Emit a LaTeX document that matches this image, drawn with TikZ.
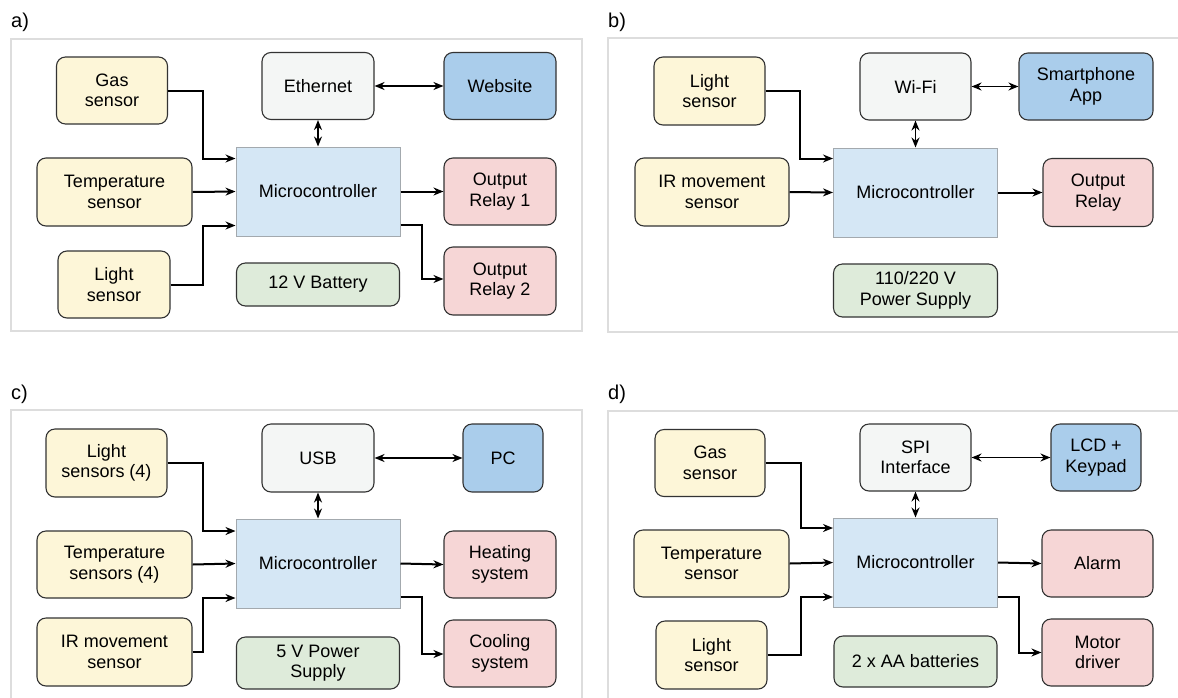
\documentclass[tikz,border=0pt]{standalone}
\usepackage{fontspec}
\setmainfont{Liberation Sans}
\usetikzlibrary{arrows.meta}

\definecolor{sensorfill}{HTML}{FDF6D8}
\definecolor{commfill}{HTML}{F4F6F5}
\definecolor{extfill}{HTML}{AACDEB}
\definecolor{outfill}{HTML}{F6D6D6}
\definecolor{powerfill}{HTML}{DEEBDA}
\definecolor{mcufill}{HTML}{D5E7F5}
\definecolor{mculine}{HTML}{A3A9AE}
\definecolor{boxline}{HTML}{333333}
\definecolor{frameline}{HTML}{DDDDDD}

\tikzset{
  blk/.style={draw=boxline, line width=1.1pt, rounded corners=9pt, align=center,
    inner sep=0pt, font=\fontsize{18}{20.5}\selectfont},
  sensor/.style={blk, fill=sensorfill},
  comm/.style={blk, fill=commfill},
  ext/.style={blk, fill=extfill},
  outbox/.style={blk, fill=outfill},
  power/.style={blk, fill=powerfill},
  mcubox/.style={draw=mculine, line width=1pt, fill=mcufill, align=center,
    minimum width=164pt, minimum height=89pt, inner sep=0pt,
    font=\fontsize{18}{20.5}\selectfont},
  conn/.style={line width=2pt, -{Stealth[length=10pt,width=8pt]}},
  biconn/.style={line width=1.8pt, {Stealth[length=10pt,width=8pt]}-{Stealth[length=10pt,width=8pt]}},
  frame/.style={draw=frameline, line width=2pt},
  panellabel/.style={anchor=west, inner sep=0pt, font=\fontsize{20}{22}\selectfont}
}

\begin{document}
\begin{tikzpicture}[x=1pt, y=-1pt]
  \clip (0,0) rectangle (1178,697);
  \fill[white] (0,0) rectangle (1178,697);

  % a) gas / temperature / light
  \node[panellabel] (la) at (11,22) {a)};
  \draw[frame] (11,39) rectangle (582,331);
  \node[sensor, minimum width=111pt, minimum height=67pt] (agas) at (112,90.5) {Gas\\sensor};
  \node[sensor, minimum width=155pt, minimum height=68pt] (atemp) at (114.5,192) {Temperature\\sensor};
  \node[sensor, minimum width=112pt, minimum height=67pt] (alight) at (114,284.5) {Light\\sensor};
  \node[comm, minimum width=112pt, minimum height=67pt] (aeth) at (318,86) {Ethernet};
  \node[ext, minimum width=112pt, minimum height=67pt] (aweb) at (500,86) {Website};
  \node[mcubox] (amcu) at (318,191.5) {Microcontroller};
  \node[outbox, minimum width=112pt, minimum height=67pt] (arelA) at (500,191.5) {Output\\Relay 1};
  \node[outbox, minimum width=112pt, minimum height=68pt] (arelB) at (500,281) {Output\\Relay 2};
  \node[power, minimum width=163pt, minimum height=43pt] (abat) at (318,284.5) {12 V Battery};
  \draw[conn] (agas.east) -- ++(35,0) |- ([yshift=33pt]amcu.west);
  \draw[conn] (atemp.east) -- (amcu.west);
  \draw[conn] (alight.east) -- ++(32,0) |- ([yshift=-34pt]amcu.west);
  \draw[biconn] (aeth.east) -- (aweb.west);
  \draw[biconn] (aeth.south) -- (amcu.north);
  \draw[conn] (amcu.east) -- (arelA.west);
  \draw[conn] ([yshift=-33pt]amcu.east) -- ++(21,0) |- ([yshift=2pt]arelB.west);

  % b) light / IR
  \node[panellabel] (lb) at (608,22) {b)};
  \draw[frame] (608,38) rectangle (1190,332);
  \node[sensor, minimum width=111pt, minimum height=68pt] (blight) at (709.5,91) {Light\\sensor};
  \node[sensor, minimum width=154pt, minimum height=68pt] (bir) at (712,192) {IR movement\\sensor};
  \node[comm, minimum width=111pt, minimum height=67pt] (bwifi) at (915.5,86.5) {Wi-Fi};
  \node[ext, minimum width=134pt, minimum height=67pt] (bapp) at (1086,86.5) {Smartphone\\App};
  \node[mcubox] (bmcu) at (915.5,192.5) {Microcontroller};
  \node[outbox, minimum width=110pt, minimum height=68pt] (brel) at (1098,192.5) {Output\\Relay};
  \node[power, minimum width=164pt, minimum height=53pt] (bpsu) at (915.5,290.5) {110/220 V\\Power Supply};
  \draw[conn] (blight.east) -- ++(34,0) |- ([yshift=34pt]bmcu.west);
  \draw[conn] (bir.east) -- (bmcu.west);
  \draw[biconn] (bwifi.east) -- (bapp.west);
  \draw[biconn] (bwifi.south) -- (bmcu.north);
  \draw[conn] (bmcu.east) -- (brel.west);

  % c) light / temperature / IR, 4 sensors each
  \node[panellabel] (lc) at (11,394) {c)};
  \draw[frame] (11,410) rectangle (582,720);
  \node[sensor, minimum width=121pt, minimum height=68pt] (clight) at (106.5,463) {Light\\sensors (4)};
  \node[sensor, minimum width=155pt, minimum height=67pt] (ctemp) at (114.5,564.5) {Temperature\\sensors (4)};
  \node[sensor, minimum width=155pt, minimum height=68pt] (cir) at (114.5,652) {IR movement\\sensor};
  \node[comm, minimum width=112pt, minimum height=68pt] (cusb) at (318,458) {USB};
  \node[ext, minimum width=80pt, minimum height=68pt] (cpc) at (503,458) {PC};
  \node[mcubox] (cmcu) at (318,563.5) {Microcontroller};
  \node[outbox, minimum width=112pt, minimum height=67pt] (cheat) at (500,564.5) {Heating\\system};
  \node[outbox, minimum width=112pt, minimum height=67pt] (ccool) at (500,653.5) {Cooling\\system};
  \node[power, minimum width=163pt, minimum height=52pt] (cpsu) at (318,663) {5 V Power\\Supply};
  \draw[conn] (clight.east) -- ++(35,0) |- ([yshift=32.5pt]cmcu.west);
  \draw[conn] (ctemp.east) -- (cmcu.west);
  \draw[conn] (cir.east) -- ++(10,0) |- ([yshift=-34.5pt]cmcu.west);
  \draw[biconn] (cusb.east) -- (cpc.west);
  \draw[biconn] (cusb.south) -- (cmcu.north);
  \draw[conn] (cmcu.east) -- (cheat.west);
  \draw[conn] ([yshift=-33.5pt]cmcu.east) -- ++(21,0) |- ([yshift=-0.5pt]ccool.west);

  % d) gas / temperature / light, SPI
  \node[panellabel] (ld) at (608,394) {d)};
  \draw[frame] (608,411) rectangle (1190,720);
  \node[sensor, minimum width=110pt, minimum height=67pt] (dgas) at (710,463) {Gas\\sensor};
  \node[sensor, minimum width=155pt, minimum height=67pt] (dtemp) at (711.5,563.5) {Temperature\\sensor};
  \node[sensor, minimum width=111pt, minimum height=68pt] (dlight) at (711.5,655) {Light\\sensor};
  \node[comm, minimum width=111pt, minimum height=67pt] (dspi) at (915.5,457.5) {SPI\\Interface};
  \node[ext, minimum width=90pt, minimum height=67pt] (dlcd) at (1096,457.5) {LCD +\\Keypad};
  \node[mcubox] (dmcu) at (915.5,562.5) {Microcontroller};
  \node[outbox, minimum width=111pt, minimum height=67pt] (dalarm) at (1097.5,563.5) {Alarm};
  \node[outbox, minimum width=111pt, minimum height=67pt] (dmotor) at (1097.5,652.5) {Motor\\driver};
  \node[power, minimum width=163pt, minimum height=51pt] (daa) at (915.5,661.5) {2 x AA batteries};
  \draw[conn] (dgas.east) -- ++(35,0) |- ([yshift=34.5pt]dmcu.west);
  \draw[conn] (dtemp.east) -- (dmcu.west);
  \draw[conn] (dlight.east) -- ++(33,0) |- ([yshift=-34.5pt]dmcu.west);
  \draw[biconn] (dspi.east) -- (dlcd.west);
  \draw[biconn] (dspi.south) -- (dmcu.north);
  \draw[conn] (dmcu.east) -- (dalarm.west);
  \draw[conn] ([yshift=-34.5pt]dmcu.east) -- ++(21,0) |- (dmotor.west);
\end{tikzpicture}
\end{document}
